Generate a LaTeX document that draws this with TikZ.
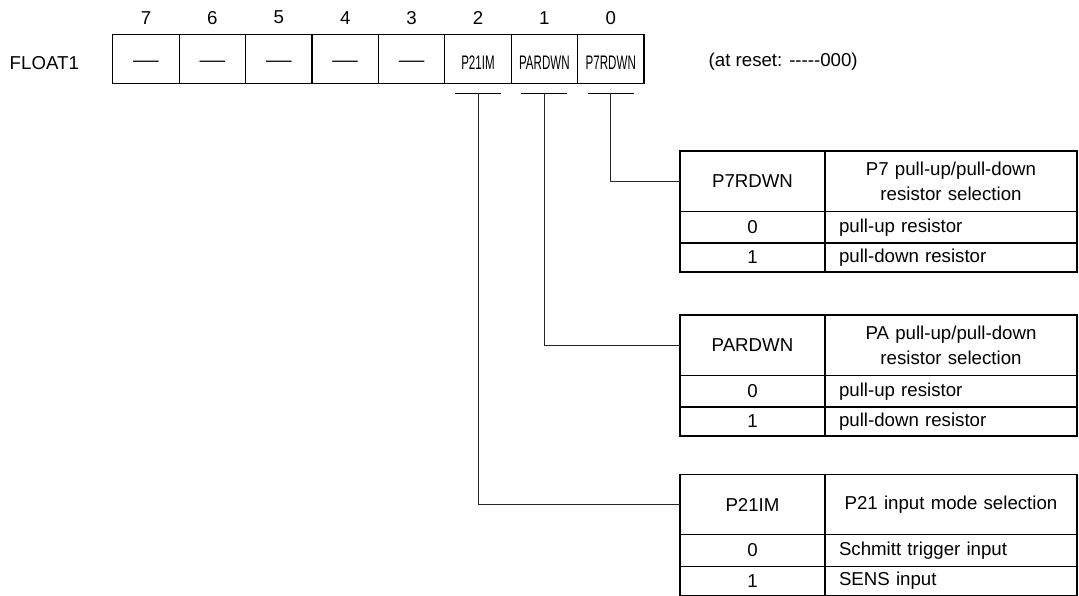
\documentclass[tikz,border=0pt]{standalone}
\usepackage{fontspec}
\setmainfont{Liberation Sans}[Ligatures=TeXOff]
\usepackage{graphicx}
\usetikzlibrary{positioning,calc}

\newcommand{\nobit}{\raisebox{-0.38em}[0pt][0pt]{\scalebox{1.37}[1]{—}}}
\newcommand{\bitname}[1]{\raisebox{-3pt}[10pt][0pt]{\scalebox{0.62}[1.05]{#1}}}

\tikzset{
  bitcell/.style={draw, line width=0.95pt, minimum width=49.8pt, minimum height=36.5pt, inner sep=0pt, outer sep=0pt},
  keycell/.style={draw, line width=0.8pt, minimum width=108.75pt, inner sep=0pt, outer sep=0pt},
  desccell/.style={draw, line width=0.8pt, text width=168pt, inner xsep=10.5pt, inner ysep=0pt, outer sep=0pt, align=left},
  headrow/.style={minimum height=45.4pt},
  rowzero/.style={minimum height=23.6pt},
  rowone/.style={minimum height=21.75pt},
  bar/.style={line width=0.8pt},
  link/.style={line width=0.75pt, black!85},
}

\begin{document}
\begin{tikzpicture}[x=0.75pt, y=-0.75pt, font=\fontsize{14}{18.5}\selectfont]
\useasboundingbox (0,0) rectangle (1079,596);

% Register
\node (reg) at (44.3,63) {FLOAT1};
\foreach \i/\txt in {7/\nobit,6/\nobit,5/\nobit,4/\nobit,3/\nobit,2/\bitname{P21IM},1/\bitname{PARDWN},0/\bitname{P7RDWN}} {
  \node[bitcell] (c\i) at ({146+66.4*(7-\i)},59) {\txt};
  \node (n\i) at ($(c\i.north)+(0,-17)$) {\i};
}
\node[anchor=west] (rst) at (704,62) {(at reset: -----000)};

% Bars under the used bits
\foreach \i in {0,1,2} {
  \coordinate (t\i) at ($(c\i.south)+(0,10)$);
  \draw[bar] ($(t\i)+(-23,0)$) -- ($(t\i)+(23,0)$);
}

% P7RDWN table
\node[keycell, headrow, anchor=north west] (k0) at (680,151) {P7RDWN};
\node[desccell, headrow, align=center, right=0pt of k0] (d0) {P7 pull-up/pull-down\\resistor selection};
\node[keycell, rowzero, below=0pt of k0] (k0a) {0};
\node[desccell, rowzero, below=0pt of d0] (d0a) {pull-up resistor};
\node[keycell, rowone, below=0pt of k0a] (k0b) {1};
\node[desccell, rowone, below=0pt of d0a] (d0b) {pull-down resistor};

% PARDWN table
\node[keycell, headrow, anchor=north west] (k1) at (680,315) {PARDWN};
\node[desccell, headrow, align=center, right=0pt of k1] (d1) {PA pull-up/pull-down\\resistor selection};
\node[keycell, rowzero, below=0pt of k1] (k1a) {0};
\node[desccell, rowzero, below=0pt of d1] (d1a) {pull-up resistor};
\node[keycell, rowone, below=0pt of k1a] (k1b) {1};
\node[desccell, rowone, below=0pt of d1a] (d1b) {pull-down resistor};

% P21IM table
\node[keycell, headrow, anchor=north west] (k2) at (680,474.3) {P21IM};
\node[desccell, headrow, align=center, right=0pt of k2] (d2) {P21 input mode selection};
\node[keycell, rowzero, below=0pt of k2] (k2a) {0};
\node[desccell, rowzero, below=0pt of d2] (d2a) {Schmitt trigger input};
\node[keycell, rowone, below=0pt of k2a] (k2b) {1};
\node[desccell, rowone, below=0pt of d2a] (d2b) {SENS input};

% Links
\draw[link] (t0) |- (k0.west);
\draw[link] (t1) |- (k1.west);
\draw[link] (t2) |- (k2.west);

\end{tikzpicture}
\end{document}
